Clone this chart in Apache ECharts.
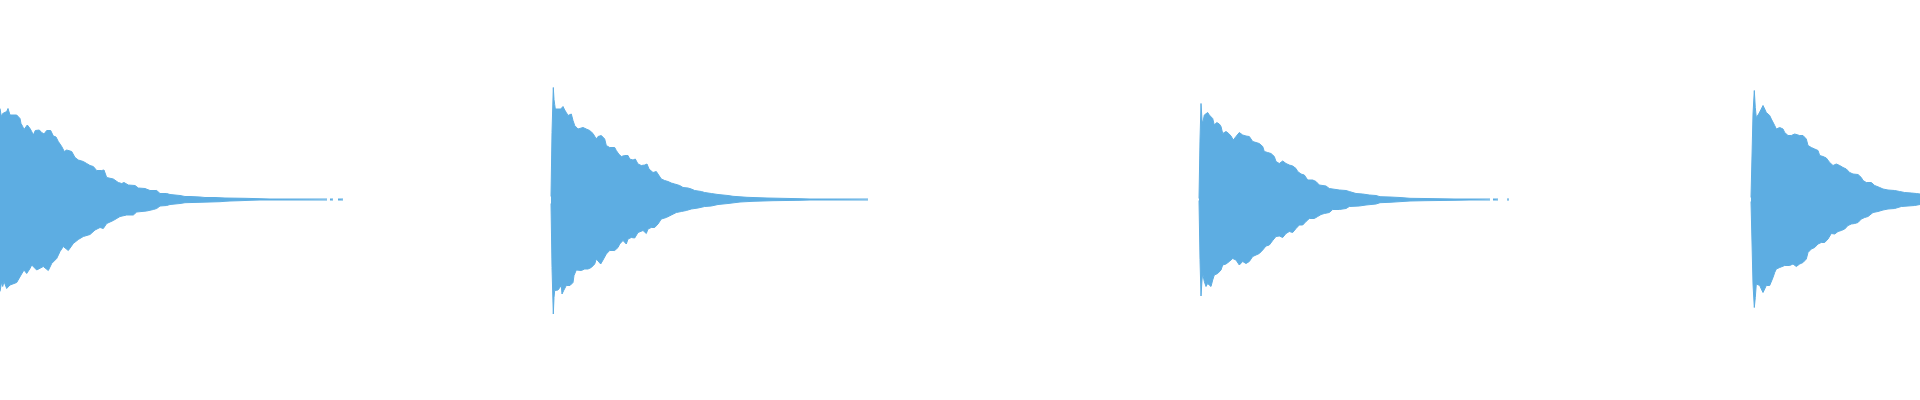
<!DOCTYPE html>
<html>
<head>
<meta charset="utf-8">
<script src="https://cdn.jsdelivr.net/npm/echarts@6/dist/echarts.min.js"></script>
<style>html,body{margin:0;padding:0;background:#fff}#chart{width:1920px;height:400px}</style>
</head>
<body>
<div id="chart"></div>
<script>
// Waveform envelope: [time, amplitude] pairs (upper = positive peak, lower = magnitude of negative peak)
const seg1Upper = [[0,91],[1.3,83],[2.7,86],[4.7,84.5],[6.7,88],[8,91],[10,84.5],[11.7,83],[16.7,84.5],[20,81],[21,76],[22.7,73],[24,70],[27.3,74.5],[30,71],[31.7,68],[33.3,64.5],[35.3,69],[39.3,69.5],[41.7,67],[44,65.5],[46.7,69],[48.3,71],[50.7,69],[53.3,63.5],[56,62.5],[58.3,58],[61.7,53],[64.3,48],[66.7,49.5],[68.3,51],[71.7,48],[75,42],[78.3,39.5],[80,41],[83.3,38],[86.7,36],[90,34],[93.3,33],[96.7,29],[101.7,29],[104,29.5],[106.7,22],[113.3,20.5],[118.3,17],[121.7,16],[124,17],[128.3,14.5],[135,14],[138.3,11.5],[145,11],[150,9],[156.7,9],[160,6],[166.7,6],[170,5],[180,4],[185,3],[190,3],[200,2.5],[205,2],[215,2],[225,1.5],[245,1.2],[260,0.8],[270,0.5],[327,0.5],[328,null],[330,0.5],[333,0.5],[334,null],[338,0.5],[343,0.5]];
const seg1Lower = [[0,92],[1.7,82],[2.7,87],[4,82],[6.7,89],[8,91],[10,85.5],[16.7,83],[21,75.5],[24,70.5],[26.7,74],[30,69],[31.7,65.5],[36.7,70.5],[43.3,67],[48.3,71],[51.7,64],[56.7,59],[60,52],[63.3,47],[68.3,51],[73.3,44],[78.3,40],[83.3,37],[90,35],[95,30.5],[100,28],[103.3,29],[106.7,24],[113.3,21],[120,17],[126.7,15.5],[133.3,15.5],[136.7,12.5],[146.7,11.5],[153.3,10],[156.7,9],[160,6.5],[166.7,6],[170,5],[180,4],[185,3.2],[200,2.8],[210,2.5],[220,2.2],[225,1.8],[230,1.5],[240,1.2],[250,0.8],[260,0.5],[327,0.5],[328,null],[330,0.5],[333,0.5],[334,null],[338,0.5],[343,0.5]];
const seg2Upper = [[551,3],[552,67],[553.3,112],[554,100],[554.7,95],[555.3,90.5],[560.7,90.5],[562,92],[563,93],[564.7,89.5],[566.3,87],[568,84],[569.7,86],[571.3,85.5],[573,79],[574.7,74],[576.3,72],[578,70.5],[580,71],[583,72],[586.3,70.5],[589.7,69],[593,66],[596.3,60.5],[598,63],[601.3,64],[604.7,60.5],[606.3,54],[609.7,52],[614.7,52],[616.3,49],[618.7,45.5],[621.3,43],[624.7,44],[626.3,46],[628,44],[629.7,40.5],[633,39.5],[635.3,40.5],[638,35.5],[641.3,34],[644.7,34.5],[647,35.5],[649,30.5],[653,27],[656.3,28],[658,26],[661.3,20.5],[664.7,19],[668,18],[671.3,16.5],[674.7,15.5],[679.7,14],[683,12],[688,11.5],[691.3,10.5],[694.7,9],[701.3,8],[704.7,7],[711.3,6],[718,5],[728,4],[733,3.2],[747,2.2],[767,1.5],[800,0.8],[810,0.5],[868,0.5]];
const seg2Lower = [[551,4],[552,68],[553.3,114.5],[554,98],[554.7,91],[556.3,89.5],[558,90.5],[559.7,88.5],[561.3,86],[562,94.5],[563.7,91],[564.7,89.5],[566.3,86],[568,87],[570,86],[573,83],[574,76],[576.3,70.5],[578,69.5],[581.3,71],[583,73],[584.7,69.5],[588,69.5],[591.3,68],[594.7,64.5],[596.3,59.5],[598,61],[600.7,64.5],[603,60.5],[606.3,54.5],[609.7,51],[614.7,51],[618,48],[619.7,44.5],[623,41],[626.3,44.5],[628,39.5],[631.3,38],[634.7,38.5],[638,33],[643,31],[646.3,34],[648,29.5],[651.3,28],[654.7,28],[658,24.5],[661.3,19.5],[666.3,18],[671.3,15.5],[676.3,13],[681.3,12],[686.3,11],[691.3,9.5],[698,8.5],[704.7,7],[711.3,6.5],[718,5],[728,4],[740,2.5],[753,1.8],[773,1.2],[800,0.8],[810,0.5],[868,0.5]];
const seg3Upper = [[1199,1],[1200,59.5],[1201,96],[1202,79.5],[1202.7,76],[1204.3,84.5],[1206,83.5],[1207.7,87],[1209.3,84.5],[1211,86],[1212.7,81],[1214.3,74.5],[1216.7,77],[1219.3,75.5],[1221,73],[1222.7,66],[1226,68],[1228.7,66],[1231,63.5],[1233.3,59.5],[1236,63],[1239.3,67],[1242.7,64.5],[1246,63.5],[1247.7,64.5],[1249.3,63],[1252.7,58],[1256,57],[1259.3,56],[1262.7,53],[1264.3,48],[1267.7,47],[1271,46],[1274.3,43],[1276,38],[1279.3,36],[1282.7,38.5],[1286,36],[1289.3,34.5],[1292.7,33.5],[1296,31],[1297.7,28],[1301,25.5],[1304.3,24.5],[1307.7,19.5],[1312.7,19.5],[1316,18],[1319.3,14.5],[1326,13.5],[1329.3,11],[1336,10],[1339.3,9.5],[1346,9],[1349.3,8],[1356,6],[1362.7,5.5],[1369.3,4.5],[1376,4],[1380,2.8],[1390,2.5],[1400,2],[1410,1.2],[1425,1],[1455,0.5],[1490,0.5],[1491,null],[1493,0.5],[1498,0.5],[1499,null],[1507,0.5],[1509,0.5]];
const seg3Lower = [[1199,1],[1200,60],[1201,96.5],[1202,80.5],[1202.7,74],[1204.3,82],[1206,87],[1207.7,84],[1209.3,85.5],[1211,87],[1212.7,80.5],[1214.3,75.5],[1216,77],[1217.7,74],[1219.3,75.5],[1221,70.5],[1222.7,65.5],[1226,64.5],[1229.3,62],[1232.7,59],[1236,60.5],[1239.3,65.5],[1242.7,62],[1246,64],[1249.3,62],[1252.7,57],[1256,55.5],[1259.3,54],[1262.7,50.5],[1266,46.5],[1269.3,45.5],[1272.7,41],[1276,37],[1279.3,36.5],[1282.7,38],[1286,34],[1289.3,32],[1292.7,33],[1296,29],[1299.3,25.5],[1302.7,25.5],[1306,22],[1309.3,19],[1314.3,19],[1317.7,17],[1321,15],[1324.3,14],[1329.3,13],[1332.7,10],[1339.3,10],[1346,9],[1349.3,7],[1359.3,6.5],[1366,5.5],[1376,4.5],[1380,3.2],[1390,2.8],[1410,1.5],[1425,1.2],[1455,0.8],[1470,0.5],[1490,0.5],[1491,null],[1493,0.5],[1498,0.5],[1499,null],[1507,0.5],[1509,0.5]];
const seg4Upper = [[1751,2],[1753,85.5],[1754.3,109],[1755.3,92],[1756.3,82],[1757.3,84],[1758.7,85.5],[1759.7,86],[1761.3,90.5],[1763,94],[1764.7,90.5],[1766.3,87],[1768,85.5],[1769.7,84],[1771.3,80.5],[1773,79],[1774.7,74],[1776.3,70.5],[1778,70.5],[1779.7,72],[1783,70.5],[1784.7,67],[1788,64],[1791.3,64],[1794.7,65.5],[1796.3,67],[1799.7,64],[1803,64],[1804.7,62],[1806.3,60.5],[1808,54],[1811.3,52],[1814.7,50.5],[1818,49],[1819.7,44],[1823,43],[1826.3,41.5],[1829.7,37],[1833,34],[1836.3,35.5],[1839.7,34],[1843,32],[1846.3,30.5],[1849.7,27],[1853,25.5],[1858,25],[1861.3,22],[1863,19],[1866.3,17],[1871.3,17],[1874.7,14],[1879.7,12],[1883,10.5],[1888,9.5],[1894.7,9],[1899.7,8],[1904.7,7],[1911.3,6.5],[1916.3,6],[1920,5.5]];
const seg4Lower = [[1751,2],[1753,84.5],[1754.3,108],[1755.3,98],[1756.3,84.5],[1758,84],[1759.7,86],[1761.3,89.5],[1763,93],[1764.7,89.5],[1766.3,86],[1768,84.5],[1769.7,86],[1771.3,84.5],[1773,78],[1774.7,73],[1776.3,69.5],[1779.7,68],[1781.3,66],[1784.7,66],[1786.3,68],[1789.7,66],[1793,64.5],[1796.3,67],[1799.7,64.5],[1803,63],[1806.3,59.5],[1808,53],[1811.3,49.5],[1814.7,48],[1818,44.5],[1821.3,43],[1824.7,43],[1828,39.5],[1831.3,34],[1834.7,34.5],[1838,32],[1841.3,31],[1844.7,29.5],[1848,26],[1851.3,24.5],[1854.7,24],[1858,23],[1861.3,19.5],[1864.7,18],[1868,17],[1873,13],[1878,12],[1883,10.5],[1888,9.5],[1894.7,9],[1901.3,7],[1908,6.5],[1914.7,6],[1920,5]];

const upperSegs = [seg1Upper, seg2Upper, seg3Upper, seg4Upper];
const lowerSegs = [seg1Lower, seg2Lower, seg3Lower, seg4Lower];

function join(segs, sign) {
  const out = [];
  segs.forEach((s, i) => {
    if (i > 0) out.push([s[0][0] - 0.5, null]);
    s.forEach(p => out.push([p[0], p[1] == null ? null : sign * p[1]]));
  });
  return out;
}

const color = '#5dade2';
const chart = echarts.init(document.getElementById('chart'), null, {renderer: 'canvas'});
const mk = (name, data, origin) => ({
  name, type: 'line', data, symbol: 'none', connectNulls: false, animation: false,
  lineStyle: {width: 1, color}, areaStyle: {color, opacity: 1, origin}, silent: true
});
chart.setOption({
  animation: false,
  grid: {left: 0, right: 0, top: 0, bottom: 0},
  xAxis: {type: 'value', min: 0, max: 1920, show: false},
  yAxis: {type: 'value', min: -200.5, max: 199.5, show: false},
  series: [mk('upper', join(upperSegs, 1), -0.5), mk('lower', join(lowerSegs, -1), 0.5)]
});
</script>
</body>
</html>
